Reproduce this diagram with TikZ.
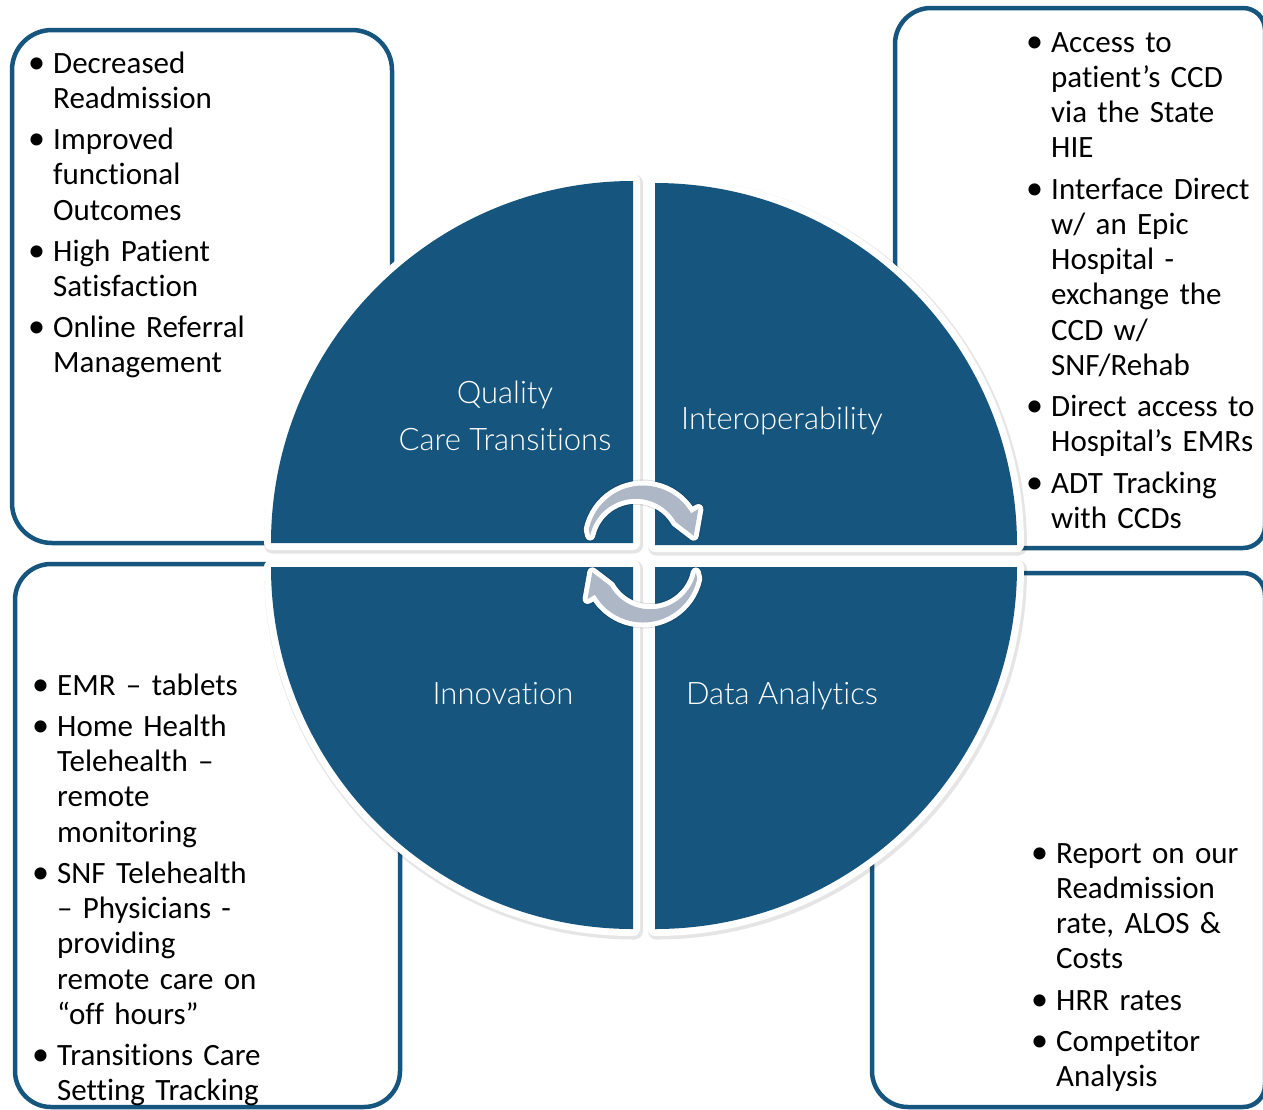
\documentclass[tikz,border=0pt]{standalone}
\usepackage{fontspec}
\setmainfont{Carlito}[Ligatures=NoCommon]
\newfontfamily\labelfont{Lato Light}[Ligatures=NoCommon]
\usetikzlibrary{calc}

\definecolor{qblue}{RGB}{22,85,126}
\definecolor{arrowgray}{RGB}{174,183,198}

% one bullet item with a hanging indent; lines inside an item are split with \newline
\newcommand\li[1]{\par\hangindent=22pt\hangafter=1\noindent\makebox[22pt][l]{\hspace{-3pt}\scalebox{1.1}{\textbullet}}#1\par\vspace{5.8pt}}

\tikzset{
  panel/.style={draw=qblue, line width=4.5pt},
  listbox/.style={anchor=base west, inner sep=0pt, text width=360pt, align=left,
                  font=\fontsize{31}{35.3}\selectfont, yshift=35.3pt},
  quadshadow/.style={draw=black, draw opacity=0.10, line width=17pt, line join=round},
  quad/.style={fill=qblue, preaction={draw=white, line width=14pt, line join=round}},
  qlabel/.style={text=white, font=\labelfont\fontsize{31}{47}\selectfont, align=center, inner sep=0pt},
  cyclearrow/.style={fill=arrowgray, preaction={draw=white, line width=10pt, line join=round}},
  arrowshadow/.style={draw=black, draw opacity=0.12, line width=12pt, line join=round}
}

\begin{document}
\begin{tikzpicture}[x=1pt, y=1pt]
\useasboundingbox (0,0) rectangle (1263,-1109);
\clip (0,0) rectangle (1263,-1109);

% ---------- outer panels ----------
\draw[panel, rounded corners=40pt] (12,-30) rectangle (392,-543);
\draw[panel, rounded corners=36pt] (15,-564) rectangle (400,-1107);
\draw[panel] (895,-44) arc[start angle=180, end angle=90, radius=36]
  -- (1243,-8) arc[start angle=90, end angle=0, radius=22]
  -- (1265,-526) arc[start angle=0, end angle=-90, radius=22]
  -- (931,-548) arc[start angle=270, end angle=180, radius=36] -- cycle;
\draw[panel] (872,-609) arc[start angle=180, end angle=90, radius=36]
  -- (1243,-573) arc[start angle=90, end angle=0, radius=22]
  -- (1265,-1085) arc[start angle=0, end angle=-90, radius=22]
  -- (908,-1107) arc[start angle=270, end angle=180, radius=36] -- cycle;

% ---------- bullet lists (positions are first baselines) ----------
\node[listbox] (listq) at (31,-73) {%
  \li{Decreased\newline Readmission}
  \li{Improved\newline functional\newline Outcomes}
  \li{High Patient\newline Satisfaction}
  \li{Online Referral\newline Management}};
\node[listbox] (listi) at (1029,-52) {%
  \li{Access to\newline patient’s CCD\newline via the State\newline HIE}
  \li{Interface Direct\newline w/ an Epic\newline Hospital -\newline exchange the\newline CCD w/\newline SNF/Rehab}
  \li{Direct access to\newline Hospital’s EMRs}
  \li{ADT Tracking\newline with CCDs}};
\node[listbox] (listn) at (35,-695) {%
  \li{EMR – tablets}
  \li{Home Health\newline Telehealth –\newline remote\newline monitoring}
  \li{SNF Telehealth\newline – Physicians -\newline providing\newline remote care on\newline “off hours”}
  \li{Transitions Care\newline Setting Tracking}};
\node[listbox] (listd) at (1034,-863) {%
  \li{Report on our\newline Readmission\newline rate, ALOS \&\newline Costs}
  \li{HRR rates}
  \li{Competitor\newline Analysis}};

% ---------- central disc of four quadrants ----------
\fill[white] (644,-555) circle[radius=368];
\begin{scope}[shift={(1.5,-2)}]
  \draw[quadshadow] (633,-543) -- ++(-362,0) arc[start angle=180, end angle=90, radius=362] -- cycle;
  \draw[quadshadow] (655,-545) -- ++(0,362) arc[start angle=90, end angle=0, radius=362] -- cycle;
  \draw[quadshadow] (633,-567) -- ++(0,-362) arc[start angle=270, end angle=180, radius=362] -- cycle;
  \draw[quadshadow] (655,-567) -- ++(362,0) arc[start angle=0, end angle=-90, radius=362] -- cycle;
\end{scope}
\path[quad] (633,-543) -- ++(-362,0) arc[start angle=180, end angle=90, radius=362] -- cycle;
\path[quad] (655,-545) -- ++(0,362) arc[start angle=90, end angle=0, radius=362] -- cycle;
\path[quad] (633,-567) -- ++(0,-362) arc[start angle=270, end angle=180, radius=362] -- cycle;
\path[quad] (655,-567) -- ++(362,0) arc[start angle=0, end angle=-90, radius=362] -- cycle;

% ---------- quadrant titles ----------
\node[qlabel] (tq) at (505,-415.5) {Quality\\Care Transitions};
\node[qlabel, anchor=base] (ti) at (782,-429) {Interoperability};
\node[qlabel, anchor=base] (tn) at (503,-704) {Innovation};
\node[qlabel, anchor=base] (td) at (782,-704) {Data Analytics};

% ---------- cycle arrows ----------
\coordinate (c1) at (643,-541);
\coordinate (c2) at (643,-567);
\begin{scope}[shift={(1,-1.5)}]
  \draw[arrowshadow] ($(c1)+(168:55.5)$) arc[start angle=168, end angle=30, radius=55.5]
    -- ($(c1)+(30:64)$) -- ($(c1)+(6:51)$) -- ($(c1)+(30:38)$)
    arc[start angle=30, end angle=168, radius=46.5] -- cycle;
  \draw[arrowshadow] ($(c2)+(-12:55.5)$) arc[start angle=-12, end angle=-150, radius=55.5]
    -- ($(c2)+(-150:64)$) -- ($(c2)+(-174:51)$) -- ($(c2)+(-150:38)$)
    arc[start angle=-150, end angle=-12, radius=46.5] -- cycle;
\end{scope}
\path[cyclearrow] ($(c1)+(168:55.5)$) arc[start angle=168, end angle=30, radius=55.5]
  -- ($(c1)+(30:64)$) -- ($(c1)+(6:51)$) -- ($(c1)+(30:38)$)
  arc[start angle=30, end angle=168, radius=46.5] -- cycle;
\path[cyclearrow] ($(c2)+(-12:55.5)$) arc[start angle=-12, end angle=-150, radius=55.5]
  -- ($(c2)+(-150:64)$) -- ($(c2)+(-174:51)$) -- ($(c2)+(-150:38)$)
  arc[start angle=-150, end angle=-12, radius=46.5] -- cycle;
\end{tikzpicture}
\end{document}
